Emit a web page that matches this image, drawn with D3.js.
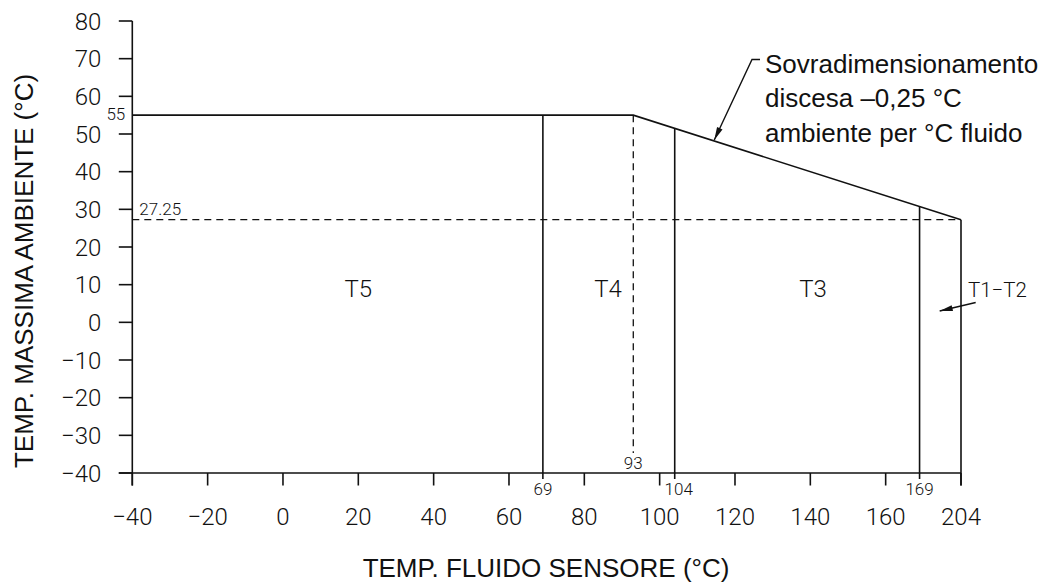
<!DOCTYPE html>
<html>
<head>
<meta charset="utf-8">
<script src="https://cdn.jsdelivr.net/npm/d3@7/dist/d3.min.js"></script>
<style>
  html, body { margin: 0; padding: 0; background: #fff; }
  svg { display: block; }
  .cad { font-family: Roboto, "Liberation Sans", sans-serif; font-weight: 300; fill: #111; }
  .hel { font-family: "Liberation Sans", Arial, Helvetica, sans-serif; fill: #111; }
</style>
</head>
<body>
<svg id="chart" width="1046" height="587"></svg>
<script>
// ---------------- data ----------------
const xTicks = [-40, -20, 0, 20, 40, 60, 80, 100, 120, 140, 160, 204];
const xTickLabels = ["−40", "−20", "0", "20", "40", "60", "80", "100", "120", "140", "160", "204"];
const yTicks = [-40, -30, -20, -10, 0, 10, 20, 30, 40, 50, 60, 70, 80];
const yTickLabels = ["−40", "−30", "−20", "−10", "0", "10", "20", "30", "40", "50", "60", "70", "80"];
// derating envelope: max ambient vs fluid temperature
const envX = [-40, 93, 204];
const envY = [55, 55, 27.25];
// class boundaries (fluid temperature)
const boundaries = [69, 104, 169, 204];
const boundaryLabels = ["69", "104", "169", ""];
const kneeX = 93;       // dashed vertical
const floorY = 27.25;   // dashed horizontal
const zoneNames = ["T5", "T4", "T3"];
const zoneX = [20, 86.3, 140.7];
const zoneY = [9, 9, 9];
const annotationLines = ["Sovradimensionamento", "discesa –0,25 °C", "ambiente per °C fluido"];
const annotationAt = 114.5;   // fluid temperature where the leader touches the slope
const t12Label = "T1−T2";
const t12At = [186, 3];

// ---------------- layout ----------------
const svg = d3.select("#chart");
const plotLeft = 132.3, plotTop = 21, plotW = 828.7, plotH = 452;
// broken x axis: linear up to 169, compressed between 169 and 204
const x = d3.scaleLinear().domain([-40, 169, 204]).range([plotLeft, plotLeft + plotW * 209 / 220, plotLeft + plotW]);
const y = d3.scaleLinear().domain([-40, 80]).range([plotTop + plotH, plotTop]);
const env = d3.scaleLinear().domain(envX.map(v => x(v))).range(envY.map(v => y(v)));

const ink = "#111";
const sw = 1.6;
const g = svg.append("g");

// ---------------- axes ----------------
const x0 = x(-40), y0 = y(-40);
g.append("line").attr("x1", x0).attr("x2", x0).attr("y1", y(80)).attr("y2", y0 + 12.5)
  .attr("stroke", ink).attr("stroke-width", sw);
g.selectAll(".yt").data(yTicks).join("line")
  .attr("x1", x0 - 13.5).attr("x2", x0).attr("y1", d => y(d)).attr("y2", d => y(d))
  .attr("stroke", ink).attr("stroke-width", sw);
g.selectAll(".yl").data(yTicks).join("text").attr("class", "cad")
  .attr("x", x0 - 31).attr("y", d => y(d)).attr("dy", "0.36em")
  .attr("text-anchor", "end").attr("font-size", 24)
  .text((d, i) => yTickLabels[i]);

g.append("line").attr("x1", x0 - 13.5).attr("x2", x(204)).attr("y1", y0).attr("y2", y0)
  .attr("stroke", ink).attr("stroke-width", sw);
g.selectAll(".xt").data(xTicks).join("line")
  .attr("x1", d => x(d)).attr("x2", d => x(d)).attr("y1", y0).attr("y2", y0 + 12.5)
  .attr("stroke", ink).attr("stroke-width", sw);
g.selectAll(".xl").data(xTicks).join("text").attr("class", "cad")
  .attr("x", d => x(d)).attr("y", y0 + 52)
  .attr("text-anchor", "middle").attr("font-size", 24)
  .text((d, i) => xTickLabels[i]);

// ---------------- envelope ----------------
const envPts = envX.map((v, i) => [x(v), y(envY[i])]);
g.append("path").attr("d", d3.line()(envPts))
  .attr("fill", "none").attr("stroke", ink).attr("stroke-width", sw);

g.append("line").attr("x1", x0).attr("x2", x(204)).attr("y1", y(floorY)).attr("y2", y(floorY))
  .attr("stroke", ink).attr("stroke-width", 1.3).attr("stroke-dasharray", "7,5");
g.append("line").attr("x1", x(kneeX)).attr("x2", x(kneeX)).attr("y1", y(55)).attr("y2", y0 - 20)
  .attr("stroke", ink).attr("stroke-width", 1.3).attr("stroke-dasharray", "7,5");

g.selectAll(".bd").data(boundaries).join("line")
  .attr("x1", d => x(d)).attr("x2", d => x(d))
  .attr("y1", d => env(x(d))).attr("y2", (d, i) => i === boundaries.length - 1 ? y0 + 12.5 : y0 + 6)
  .attr("stroke", ink).attr("stroke-width", sw);
g.selectAll(".bl").data(boundaries).join("text").attr("class", "cad")
  .attr("x", (d, i) => x(d) + (i === 1 ? 4 : 0)).attr("y", y0 + 22)
  .attr("text-anchor", "middle").attr("font-size", 17)
  .text((d, i) => boundaryLabels[i]);

g.append("text").attr("class", "cad").attr("x", x0 - 7).attr("y", y(55)).attr("dy", "0.3em")
  .attr("text-anchor", "end").attr("font-size", 17).text("55");
g.append("text").attr("class", "cad").attr("x", x0 + 7).attr("y", y(floorY) - 4.5)
  .attr("font-size", 17).text("27.25");
g.append("text").attr("class", "cad").attr("x", x(kneeX)).attr("y", y0 - 4.5)
  .attr("text-anchor", "middle").attr("font-size", 17).text("93");

g.selectAll(".zn").data(zoneNames).join("text").attr("class", "cad")
  .attr("x", (d, i) => x(zoneX[i])).attr("y", (d, i) => y(zoneY[i])).attr("dy", "0.35em")
  .attr("text-anchor", "middle").attr("font-size", 24).text(d => d);

// ---------------- annotations ----------------
function arrowHead(tip, from, len, halfW) {
  const dx = tip[0] - from[0], dy = tip[1] - from[1];
  const L = Math.hypot(dx, dy), ux = dx / L, uy = dy / L;
  const bx = tip[0] - ux * len, by = tip[1] - uy * len;
  return [tip, [bx - uy * halfW, by + ux * halfW], [bx + uy * halfW, by - ux * halfW]];
}
const tip = [x(annotationAt), env(x(annotationAt)) - 1];
const bend = [752, 59.5];
g.append("path").attr("d", d3.line()([[760, 59.5], bend, tip]))
  .attr("fill", "none").attr("stroke", ink).attr("stroke-width", 1.4);
g.append("path").attr("d", d3.line()(arrowHead(tip, bend, 13, 3)) + "Z").attr("fill", ink);
const ann = g.append("text").attr("class", "hel").attr("font-size", 26);
annotationLines.forEach((t, i) => {
  ann.append("tspan").attr("x", 765).attr("y", 73 + i * 34.3).text(t);
});

const tTip = [x(t12At[0]), y(t12At[1])];
const tTail = [tTip[0] + 36, tTip[1] - 8.5];
g.append("line").attr("x1", tTail[0]).attr("y1", tTail[1]).attr("x2", tTip[0]).attr("y2", tTip[1])
  .attr("stroke", ink).attr("stroke-width", 1.4);
g.append("path").attr("d", d3.line()(arrowHead(tTip, tTail, 13, 3)) + "Z").attr("fill", ink);
g.append("text").attr("class", "cad").attr("x", 968).attr("y", 297)
  .attr("font-size", 20.5).text(t12Label);

// ---------------- axis titles ----------------
g.append("text").attr("class", "hel").attr("font-size", 26)
  .attr("transform", "translate(33,271) rotate(-90)").attr("text-anchor", "middle")
  .text("TEMP. MASSIMA AMBIENTE (°C)");
g.append("text").attr("class", "hel").attr("font-size", 26)
  .attr("x", 546).attr("y", 577).attr("text-anchor", "middle")
  .text("TEMP. FLUIDO SENSORE (°C)");
</script>
</body>
</html>
